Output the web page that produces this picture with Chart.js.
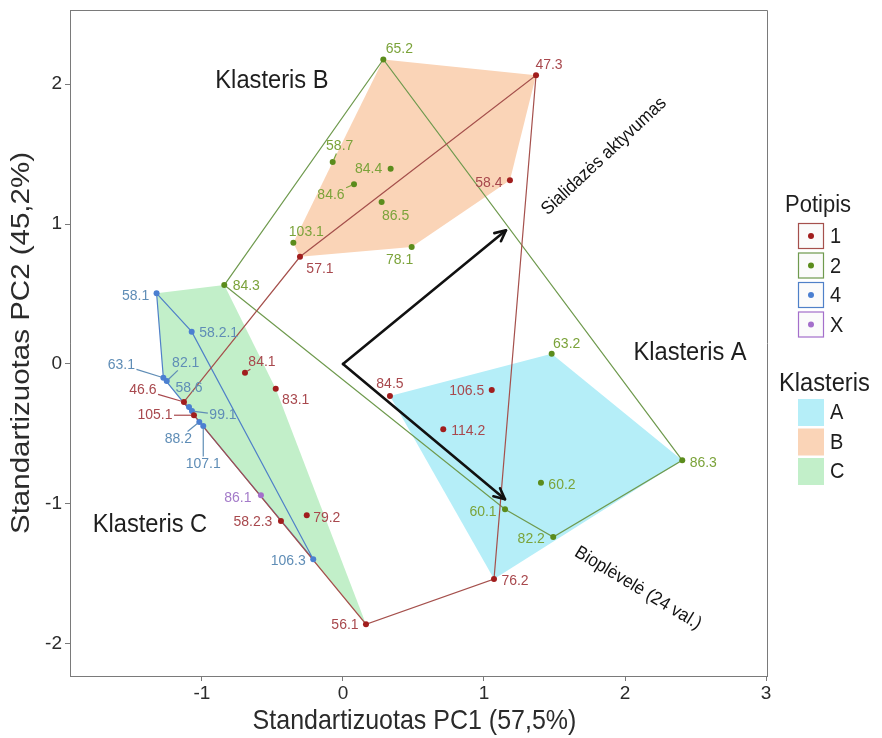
<!DOCTYPE html>
<html><head><meta charset="utf-8">
<script src="https://cdn.jsdelivr.net/npm/chart.js@4.4.1/dist/chart.umd.min.js"></script>
<style>html,body{margin:0;padding:0;background:#fff}#wrap{width:882px;height:738px}</style>
</head><body><div id="wrap"><canvas id="c" width="882" height="738"></canvas></div>
<script>
// ---------------- DATA ----------------
const xTicks = [-1, 0, 1, 2, 3];
const yTicks = [-2, -1, 0, 1, 2];
const xRange = [-1.936, 3.007];
const yRange = [-2.229, 2.529];
const xTitle = 'Standartizuotas PC1 (57,5%)';
const yTitle = 'Standartizuotas PC2 (45,2%)';

const potipisNames = ['1', '2', '4', 'X'];

const p1Labels = ['47.3','58.4','57.1','84.1','83.1','46.6','105.1','84.5','106.5','114.2','79.2','58.2.3','76.2','56.1'];
const p1X = [1.369, 1.184, -0.305, -0.695, -0.477, -1.128, -1.057, 0.333, 1.055, 0.711, -0.257, -0.440, 1.071, 0.163];
const p1Y = [2.062, 1.312, 0.766, -0.062, -0.176, -0.271, -0.366, -0.229, -0.186, -0.466, -1.081, -1.121, -1.536, -1.859];

const p2Labels = ['65.2','58.7','84.4','84.6','86.5','103.1','78.1','84.3','63.2','86.3','60.2','60.1','82.2'];
const p2X = [0.286, -0.073, 0.338, 0.078, 0.274, -0.352, 0.487, -0.842, 1.480, 2.406, 1.404, 1.149, 1.491];
const p2Y = [2.176, 1.443, 1.395, 1.284, 1.157, 0.866, 0.836, 0.564, 0.074, -0.688, -0.848, -1.038, -1.236];

const p4Labels = ['58.1','58.2.1','63.1','82.1','58.6','99.1','88.2','107.1','106.3'];
const p4X = [-1.322, -1.073, -1.274, -1.250, -1.092, -1.071, -1.019, -0.991, -0.211];
const p4Y = [0.505, 0.231, -0.098, -0.121, -0.307, -0.336, -0.414, -0.443, -1.395];

const pXLabels = ['86.1'];
const pXX = [-0.582];
const pXY = [-0.938];

const clusterNames = ['A', 'B', 'C'];
const clusterA = ['84.5','106.5','114.2','76.2','63.2','86.3','60.2','60.1','82.2'];
const clusterB = ['47.3','58.4','57.1','65.2','58.7','84.4','84.6','86.5','103.1','78.1'];
const clusterC = ['58.1','58.2.1','63.1','82.1','58.6','99.1','88.2','107.1','106.3','84.1','83.1','46.6','105.1','79.2','58.2.3','56.1','84.3','86.1'];

const loadingNames = ['Sialidazės aktyvumas', 'Bioplėvelė (24 val.)'];
const loadingX = [1.156, 1.149];
const loadingY = [0.955, -0.966];

// ---------------- STYLE ----------------
const FONT = "'Liberation Sans', Arial, Helvetica, sans-serif";
const pointColors = ['#A11D1D', '#5B8C1C', '#4B7FD1', '#A46FCB'];
const hullColors  = ['#A5504C', '#6F9A4E', '#4F80C8', '#A46FCB'];
const labelColors = ['#A8484D', '#7BA33A', '#5F8DB6', '#A47BC9'];
const fillColors  = ['#B5EEF8', '#FAD4B7', '#C2EFC9'];
const TEXT_STRETCH = 1.1;

// label placement (pixel offsets from point) and leader lines
const labelOffset = {
  '65.2':[16,-11], '47.3':[13,-11], '58.7':[7,-16], '84.4':[-22,0], '84.6':[-23,10],
  '86.5':[14,14], '58.4':[-21,2], '103.1':[13,-11], '57.1':[20,12], '78.1':[-12,13],
  '58.1':[-21,2], '84.3':[22,1], '58.2.1':[27,1], '84.1':[17,-11], '83.1':[20,11],
  '63.1':[-42,-13], '82.1':[19,-18], '58.6':[0,-19], '46.6':[-41,-12], '105.1':[-39,0],
  '99.1':[31,4], '88.2':[-21,17], '107.1':[0,38], '86.1':[-23,2], '58.2.3':[-28,1],
  '79.2':[20,2], '106.3':[-25,1], '56.1':[-21,1], '63.2':[15,-10], '84.5':[0,-12],
  '106.5':[-25,1], '114.2':[25,2], '86.3':[21,2], '60.2':[21,2], '60.1':[-22,2],
  '82.2':[-22,2], '76.2':[21,2]
};
const leaders = ['58.7','84.6','84.1','63.1','82.1','46.6','105.1','99.1','88.2','107.1'];
const clusterTextPos = [[2.461, 0.079], [-0.504, 2.021], [-1.369, -1.15]];
const loadingLabelOffset = [[98, -74, -43], [133, 89, 31]];

// ---------------- BUILD ----------------
const groups = [
  {labels:p1Labels, xs:p1X, ys:p1Y},
  {labels:p2Labels, xs:p2X, ys:p2Y},
  {labels:p4Labels, xs:p4X, ys:p4Y},
  {labels:pXLabels, xs:pXX, ys:pXY}
];
const allPts = {};
groups.forEach((g, gi) => g.labels.forEach((l, i) => { allPts[l] = {x:g.xs[i], y:g.ys[i], g:gi}; }));

function hull(pts) {
  const p = pts.slice().sort((a, b) => a.x - b.x || a.y - b.y);
  if (p.length < 3) return p;
  const cross = (o, a, b) => (a.x - o.x) * (b.y - o.y) - (a.y - o.y) * (b.x - o.x);
  const lower = [], upper = [];
  for (const q of p) { while (lower.length >= 2 && cross(lower[lower.length-2], lower[lower.length-1], q) <= 0) lower.pop(); lower.push(q); }
  for (let i = p.length - 1; i >= 0; i--) { const q = p[i]; while (upper.length >= 2 && cross(upper[upper.length-2], upper[upper.length-1], q) <= 0) upper.pop(); upper.push(q); }
  upper.pop(); lower.pop();
  return lower.concat(upper);
}
function closed(h) { return h.length ? h.concat([h[0]]) : h; }

const datasets = [];
[clusterA, clusterB, clusterC].forEach((members, ci) => {
  const h = hull(members.map(l => ({x:allPts[l].x, y:allPts[l].y})));
  datasets.push({type:'line', data:closed(h), fill:'shape', backgroundColor:fillColors[ci],
    borderWidth:0, borderColor:'rgba(0,0,0,0)', pointRadius:0, tension:0, order:30});
});
groups.forEach((g, gi) => {
  if (g.labels.length < 3) return;
  const h = hull(g.labels.map((l, i) => ({x:g.xs[i], y:g.ys[i]})));
  datasets.push({type:'line', data:closed(h), fill:false, borderColor:hullColors[gi],
    borderWidth:1.2, pointRadius:0, tension:0, order:20});
});
groups.forEach((g, gi) => {
  datasets.push({type:'scatter', data:g.labels.map((l, i) => ({x:g.xs[i], y:g.ys[i]})),
    backgroundColor:pointColors[gi], borderWidth:0, pointRadius:3, order:10});
});

function stretchedText(ctx, text, x, y, rot, sx, sy) {
  ctx.save();
  ctx.translate(x, y);
  if (rot) ctx.rotate(rot);
  ctx.scale(sx, sy);
  ctx.fillText(text, 0, 0);
  ctx.restore();
}

const decor = {
  id:'decor',
  afterDatasetsDraw(chart) {
    const ctx = chart.ctx, xs = chart.scales.x, ys = chart.scales.y;
    const X = v => xs.getPixelForValue(v), Y = v => ys.getPixelForValue(v);
    ctx.save();
    // arrows
    const ox = X(0), oy = Y(0);
    ctx.strokeStyle = '#111'; ctx.lineWidth = 2.6; ctx.lineCap = 'round'; ctx.lineJoin = 'round';
    loadingX.forEach((lx, i) => {
      const tx = X(lx), ty = Y(loadingY[i]);
      ctx.beginPath(); ctx.moveTo(ox, oy); ctx.lineTo(tx, ty); ctx.stroke();
      const a = Math.atan2(ty - oy, tx - ox), L = 12, w = 0.45;
      ctx.beginPath();
      ctx.moveTo(tx - L * Math.cos(a - w), ty - L * Math.sin(a - w));
      ctx.lineTo(tx, ty);
      ctx.lineTo(tx - L * Math.cos(a + w), ty - L * Math.sin(a + w));
      ctx.stroke();
      const o = loadingLabelOffset[i];
      ctx.fillStyle = '#111'; ctx.font = '17px ' + FONT;
      ctx.textAlign = 'center'; ctx.textBaseline = 'middle';
      stretchedText(ctx, loadingNames[i], tx + o[0], ty + o[1], o[2] * Math.PI / 180, 1, 1.08);
    });
    // cluster labels
    ctx.fillStyle = '#1e1e1e'; ctx.font = '23px ' + FONT; ctx.textAlign = 'center'; ctx.textBaseline = 'middle';
    clusterNames.forEach((n, i) => stretchedText(ctx, 'Klasteris ' + n, X(clusterTextPos[i][0]), Y(clusterTextPos[i][1]), 0, 1.03, TEXT_STRETCH));
    // point labels
    ctx.font = '14px ' + FONT;
    Object.keys(allPts).forEach(l => {
      const p = allPts[l], px = X(p.x), py = Y(p.y);
      const off = labelOffset[l] || [0, -12];
      const lx = px + off[0], ly = py + off[1];
      ctx.fillStyle = labelColors[p.g]; ctx.strokeStyle = labelColors[p.g];
      stretchedText(ctx, l, lx, ly, 0, 1, TEXT_STRETCH);
      if (leaders.includes(l)) {
        const hw = ctx.measureText(l).width / 2 + 1.5, hh = 7.5;
        const dx = px - lx, dy = py - ly;
        const t = Math.min(dx !== 0 ? hw / Math.abs(dx) : 1e9, dy !== 0 ? hh / Math.abs(dy) : 1e9);
        if (t < 1) {
          const ex = lx + dx * t, ey = ly + dy * t;
          const len = Math.hypot(px - ex, py - ey);
          const sx = px - (px - ex) / len * 2.5, sy = py - (py - ey) / len * 2.5;
          ctx.lineWidth = 1.2; ctx.lineCap = 'butt';
          ctx.beginPath(); ctx.moveTo(sx, sy); ctx.lineTo(ex, ey); ctx.stroke();
        }
      }
    });
    // panel border
    const ca = chart.chartArea;
    ctx.strokeStyle = '#7a7a7a'; ctx.lineWidth = 1;
    ctx.strokeRect(Math.round(ca.left) + 0.5, Math.round(ca.top) + 0.5, Math.round(ca.right - ca.left), Math.round(ca.bottom - ca.top));
    ctx.restore();
  },
  afterDraw(chart) {
    const ctx = chart.ctx, ca = chart.chartArea;
    ctx.save();
    // axis titles
    ctx.fillStyle = '#2b2b2b'; ctx.font = '25px ' + FONT;
    ctx.textAlign = 'center'; ctx.textBaseline = 'middle';
    stretchedText(ctx, xTitle, (ca.left + ca.right) / 2 - 4, 721, 0, 1.0, 1.12);
    stretchedText(ctx, yTitle, 22, (ca.top + ca.bottom) / 2, -Math.PI / 2, 1.18, 1.0);
    // legend
    ctx.textAlign = 'left'; ctx.fillStyle = '#1e1e1e';
    ctx.font = '22px ' + FONT;
    stretchedText(ctx, 'Potipis', 785, 205, 0, 1, TEXT_STRETCH);
    potipisNames.forEach((n, i) => {
      const cy = 236 + i * 29.5;
      ctx.fillStyle = '#fbfbfb'; ctx.fillRect(798, cy - 13, 25, 26);
      ctx.strokeStyle = hullColors[i]; ctx.lineWidth = 1.2;
      ctx.strokeRect(798.5, cy - 12.5, 25, 25);
      ctx.fillStyle = pointColors[i];
      ctx.beginPath(); ctx.arc(811, cy, 3, 0, Math.PI * 2); ctx.fill();
      ctx.fillStyle = '#1e1e1e'; ctx.font = '20px ' + FONT;
      stretchedText(ctx, n, 830, cy + 1, 0, 1, TEXT_STRETCH);
    });
    ctx.font = '23px ' + FONT;
    stretchedText(ctx, 'Klasteris', 779, 384, 0, 1.03, TEXT_STRETCH);
    clusterNames.forEach((n, i) => {
      const cy = 412 + i * 29.5;
      ctx.fillStyle = fillColors[i]; ctx.fillRect(798, cy - 13, 26, 27);
      ctx.fillStyle = '#1e1e1e'; ctx.font = '20px ' + FONT;
      stretchedText(ctx, n, 830, cy + 1, 0, 1, TEXT_STRETCH);
    });
    ctx.restore();
  }
};

Chart.defaults.font.family = FONT;
new Chart(document.getElementById('c'), {
  type:'scatter',
  data:{datasets},
  options:{
    responsive:false, animation:false, devicePixelRatio:1,
    layout:{padding:{top:10, right:115, left:0, bottom:0}},
    plugins:{legend:{display:false}, tooltip:{enabled:false}},
    scales:{
      x:{type:'linear', min:xRange[0], max:xRange[1],
        afterBuildTicks:s => { s.ticks = xTicks.map(v => ({value:v})); },
        afterFit:s => { s.height = 62; s.paddingLeft = 0; s.paddingRight = 0; },
        grid:{drawOnChartArea:false, drawTicks:true, tickLength:5, color:'#7a7a7a', tickColor:'#7a7a7a'},
        border:{display:true, color:'#7a7a7a'},
        ticks:{font:{size:19}, color:'#2b2b2b', padding:1, callback:v => String(v)},
        title:{display:false}
      },
      y:{type:'linear', min:yRange[0], max:yRange[1],
        afterBuildTicks:s => { s.ticks = yTicks.map(v => ({value:v})); },
        afterFit:s => { s.width = 70; s.paddingTop = 0; s.paddingBottom = 0; },
        grid:{drawOnChartArea:false, drawTicks:true, tickLength:5, color:'#7a7a7a', tickColor:'#7a7a7a'},
        border:{display:true, color:'#7a7a7a'},
        ticks:{font:{size:19}, color:'#2b2b2b', padding:3, callback:v => String(v)},
        title:{display:false}
      }
    }
  },
  plugins:[decor]
});
</script></body></html>
